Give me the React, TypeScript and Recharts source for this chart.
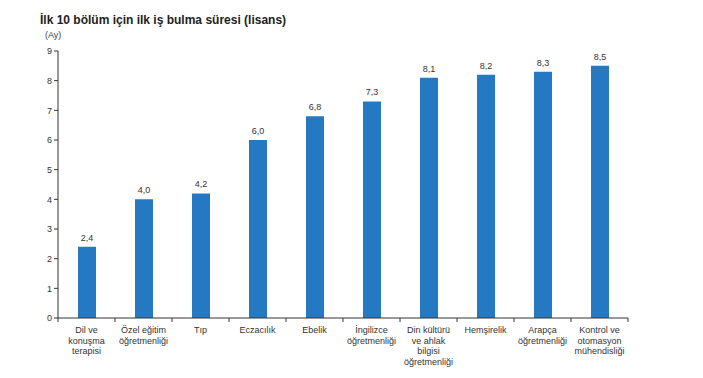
import React from 'react';
import { BarChart, Bar, XAxis, YAxis, LabelList } from 'recharts';

const categories = [
  'Dil ve\nkonuşma\nterapisi',
  'Özel eğitim\nöğretmenliği',
  'Tıp',
  'Eczacılık',
  'Ebelik',
  'İngilizce\nöğretmenliği',
  'Din kültürü\nve ahlak\nbilgisi\nöğretmenliği',
  'Hemşirelik',
  'Arapça\nöğretmenliği',
  'Kontrol ve\notomasyon\nmühendisliği',
];
const values = [2.4, 4.0, 4.2, 6.0, 6.8, 7.3, 8.1, 8.2, 8.3, 8.5];
const yTicks = [0, 1, 2, 3, 4, 5, 6, 7, 8, 9];

const data = categories.map((c, i) => ({ name: c, value: values[i] }));

const FONT = 'Arial, "Liberation Sans", sans-serif';

const XTick = (props: any) => {
  const { x, y, payload, index } = props;
  const lines: string[] = String(payload.value).split('\n');
  const off = payload.offset || 28.5;
  return (
    <g>
      <line x1={x - off} x2={x - off} y1={y - 8} y2={y - 4} stroke="#333" strokeWidth={1} />
      {index === categories.length - 1 && (
        <line x1={x + off} x2={x + off} y1={y - 8} y2={y - 4} stroke="#333" strokeWidth={1} />
      )}
      <text x={x} y={y + 7} textAnchor="middle" fontSize={9} fill="#333" fontFamily={FONT}>
        {lines.map((l, i) => (
          <tspan key={i} x={x} dy={i === 0 ? 0 : 10.5}>
            {l}
          </tspan>
        ))}
      </text>
    </g>
  );
};

export default function App() {
  return (
    <div style={{ position: 'absolute', left: 0, top: 0, width: 703, height: 378, background: '#fff' }}>
      <div
        style={{
          position: 'absolute',
          left: 40,
          top: 13,
          fontFamily: FONT,
          fontWeight: 'bold',
          fontSize: 12,
          color: '#222',
        }}
      >
        İlk 10 bölüm için ilk iş bulma süresi (lisans)
      </div>
      <div style={{ position: 'absolute', left: 45, top: 30, fontFamily: FONT, fontSize: 9, color: '#444' }}>
        (Ay)
      </div>
      <div style={{ position: 'absolute', left: 0, top: 0 }}>
        <BarChart
          width={703}
          height={378}
          data={data}
          margin={{ top: 51, right: 75, bottom: 10, left: 0 }}
          barCategoryGap={0}
        >
          <XAxis
            dataKey="name"
            interval={0}
            axisLine={{ stroke: '#333' }}
            tickLine={false}
            tick={<XTick />}
            height={50}
          />
          <YAxis
            width={58}
            domain={[0, 9]}
            ticks={yTicks}
            interval={0}
            axisLine={{ stroke: '#333' }}
            tickLine={{ stroke: '#333' }}
            tickSize={4}
            tick={{ fontSize: 9, fill: '#333', fontFamily: FONT }}
          />
          <Bar dataKey="value" fill="#2479c2" barSize={18} isAnimationActive={false}>
            <LabelList
              dataKey="value"
              position="top"
              offset={6}
              formatter={(v: any) => Number(v).toFixed(1).replace('.', ',')}
              style={{ fontSize: 9, fill: '#333', fontFamily: FONT }}
            />
          </Bar>
        </BarChart>
      </div>
    </div>
  );
}
